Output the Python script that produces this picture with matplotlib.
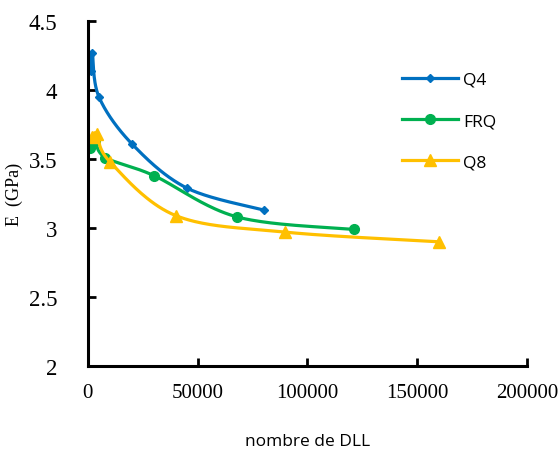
import numpy as np
import matplotlib
matplotlib.use("Agg")
import matplotlib.pyplot as plt

# Data
q4_x = [1500, 2000, 5000, 20000, 45000, 80000]
q4_y = [4.14, 4.27, 3.95, 3.61, 3.29, 3.13]
frq_x = [1000, 3000, 8000, 30000, 68000, 121000]
frq_y = [3.58, 3.63, 3.51, 3.38, 3.08, 2.99]
q8_x = [2000, 4000, 10000, 40000, 90000, 160000]
q8_y = [3.66, 3.68, 3.48, 3.09, 2.97, 2.90]
x_ticks = [0, 50000, 100000, 150000, 200000]
y_ticks = [2, 2.5, 3, 3.5, 4, 4.5]

fig = plt.figure(figsize=(5.6, 4.56), dpi=100)
ax = fig.add_axes([0.157, 0.195, 0.784, 0.757])


def smooth(ax, xs, ys):
    # Catmull-Rom smoothing in display space (like Excel smoothed lines)
    pts = ax.transData.transform(np.column_stack([xs, ys]))
    p = np.vstack([pts[0], pts, pts[-1]])
    out = []
    t = np.linspace(0, 1, 40)[:, None]
    for i in range(1, len(p) - 2):
        p0, p1, p2, p3 = p[i - 1], p[i], p[i + 1], p[i + 2]
        seg = 0.5 * ((2 * p1) + (-p0 + p2) * t + (2 * p0 - 5 * p1 + 4 * p2 - p3) * t ** 2
                     + (-p0 + 3 * p1 - 3 * p2 + p3) * t ** 3)
        out.append(seg)
    out = np.vstack(out)
    return ax.transData.inverted().transform(out)


ax.set_xlim(0, 200000)
ax.set_ylim(2, 4.5)

series = [
    (q4_x, q4_y, "#0070C0", "D", 4, "Q4"),
    (frq_x, frq_y, "#00B050", "o", 7, "FRQ"),
    (q8_x, q8_y, "#FFC000", "^", 9, "Q8"),
]
for xs, ys, c, m, ms, lab in series:
    cur = smooth(ax, xs, ys)
    ax.plot(cur[:, 0], cur[:, 1], color=c, lw=2.3, solid_capstyle="round")
    ax.plot(xs, ys, ls="none", marker=m, ms=ms, color=c)
    ax.plot([], [], color=c, lw=2.3, marker=m, ms=ms, label=lab)

ax.set_xticks(x_ticks)
ax.set_yticks(y_ticks)
ax.set_xticklabels([str(v) for v in x_ticks], fontfamily="Liberation Serif", fontsize=15)
ax.set_yticklabels(["2", "2.5", "3", "3.5", "4", "4.5"], fontfamily="Liberation Serif", fontsize=16.5)
ax.tick_params(direction="in", length=6, width=2)
ax.tick_params(axis="x", pad=12)
ax.tick_params(axis="y", pad=22)
for s in ["top", "right"]:
    ax.spines[s].set_visible(False)
for s in ["left", "bottom"]:
    ax.spines[s].set_linewidth(2.2)

ax.set_xlabel("nombre de DLL", fontfamily="Open Sans", fontsize=12.5)
ax.xaxis.set_label_coords(0.5, -0.195)
ax.set_ylabel("E  (GPa)", fontfamily="Liberation Serif", fontsize=13)
ax.yaxis.set_label_coords(-0.148, 0.5)

leg = ax.legend(loc="upper left", bbox_to_anchor=(0.68, 0.898), frameon=False,
                prop={"family": "Open Sans", "size": 12.5}, labelspacing=1.45,
                handlelength=3.2, handletextpad=0.3)

fig.savefig("out.png", dpi=100)
